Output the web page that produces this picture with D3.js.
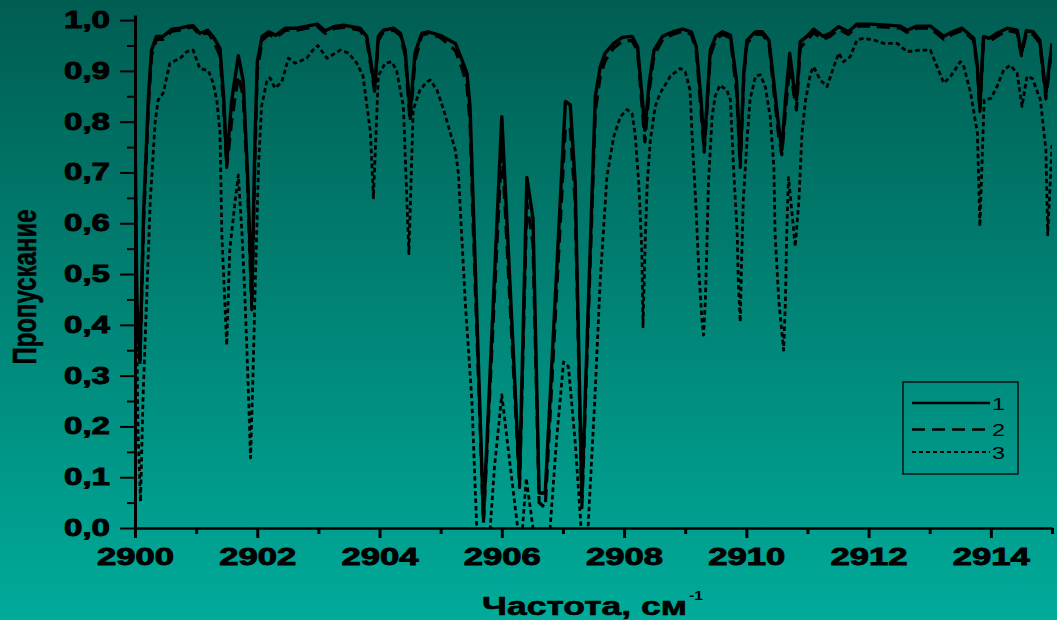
<!DOCTYPE html>
<html><head><meta charset="utf-8">
<script src="https://cdn.jsdelivr.net/npm/d3@7"></script>
<style>html,body{margin:0;padding:0;background:#008a7b;} svg{display:block}</style>
</head><body><svg id="c" width="1057" height="620"></svg>
<script>
// ---- data (frequency cm^-1, transmission) ----
const xTicks = [2900, 2902, 2904, 2906, 2908, 2910, 2912, 2914];
const xMinorTicks = [2901, 2903, 2905, 2907, 2909, 2911, 2913, 2915];
const yTicks = [0, 0.1, 0.2, 0.3, 0.4, 0.5, 0.6, 0.7, 0.8, 0.9, 1.0];
const yMinorTicks = [0.05, 0.15, 0.25, 0.35, 0.45, 0.55, 0.65, 0.75, 0.85, 0.95];
const seriesNames = ["1", "2", "3"];
const xTitle = "Частота, см";
const yTitle = "Пропускание";

const series1 = [[2900.00,.80],[2900.03,.45],[2900.08,.33],[2900.14,.62],[2900.22,.85],[2900.27,.94],[2900.35,.968],[2900.46,.968],[2900.60,.982],[2900.74,.984],[2900.87,.988],[2900.95,.989],[2901.06,.974],[2901.19,.98],[2901.28,.967],[2901.39,.944],[2901.45,.85],[2901.50,.72],[2901.58,.84],[2901.69,.93],[2901.77,.88],[2901.84,.70],[2901.91,.45],[2901.96,.75],[2902.00,.918],[2902.08,.968],[2902.19,.977],[2902.30,.97],[2902.46,.984],[2902.65,.984],[2902.81,.988],[2902.98,.992],[2903.11,.979],[2903.25,.987],[2903.41,.99],[2903.68,.984],[2903.79,.968],[2903.87,.908],[2903.92,.866],[2903.98,.968],[2904.06,.98],[2904.23,.984],[2904.34,.974],[2904.42,.94],[2904.50,.817],[2904.58,.935],[2904.69,.974],[2904.80,.977],[2904.99,.97],[2905.15,.96],[2905.24,.954],[2905.35,.921],[2905.43,.895],[2905.48,.83],[2905.53,.646],[2905.70,.02],[2906.00,.81],[2906.29,.095],[2906.41,.69],[2906.51,.61],[2906.61,.069],[2906.71,.069],[2907.04,.84],[2907.12,.833],[2907.20,.68],[2907.31,.062],[2907.53,.85],[2907.61,.908],[2907.69,.935],[2907.83,.954],[2907.97,.966],[2908.13,.968],[2908.22,.948],[2908.30,.843],[2908.34,.783],[2908.41,.876],[2908.49,.941],[2908.63,.968],[2908.80,.977],[2908.96,.982],[2909.10,.977],[2909.18,.948],[2909.26,.843],[2909.31,.75],[2909.36,.843],[2909.41,.941],[2909.50,.968],[2909.61,.977],[2909.74,.97],[2909.84,.88],[2909.90,.724],[2909.96,.90],[2910.01,.96],[2910.15,.977],[2910.26,.977],[2910.37,.96],[2910.45,.876],[2910.53,.79],[2910.58,.744],[2910.64,.843],[2910.71,.935],[2910.77,.876],[2910.82,.843],[2910.88,.957],[2910.99,.968],[2911.10,.982],[2911.26,.968],[2911.37,.974],[2911.51,.987],[2911.67,.977],[2911.81,.992],[2912.03,.992],[2912.30,.99],[2912.52,.988],[2912.63,.98],[2912.79,.988],[2913.01,.988],[2913.23,.968],[2913.37,.977],[2913.53,.984],[2913.72,.964],[2913.78,.908],[2913.82,.829],[2913.88,.968],[2913.97,.964],[2914.10,.974],[2914.27,.984],[2914.43,.98],[2914.50,.935],[2914.58,.979],[2914.69,.977],[2914.80,.96],[2914.90,.856],[2915.00,.954]];

const series2 = [[2900.00,.75],[2900.03,.42],[2900.08,.32],[2900.14,.60],[2900.22,.83],[2900.27,.93],[2900.35,.962],[2900.46,.962],[2900.60,.978],[2900.74,.98],[2900.87,.985],[2900.95,.986],[2901.06,.97],[2901.19,.976],[2901.28,.96],[2901.39,.93],[2901.45,.83],[2901.50,.71],[2901.58,.80],[2901.69,.89],[2901.77,.85],[2901.84,.68],[2901.91,.43],[2901.96,.72],[2902.00,.90],[2902.08,.96],[2902.19,.972],[2902.30,.965],[2902.46,.98],[2902.65,.98],[2902.81,.984],[2902.98,.988],[2903.11,.974],[2903.25,.983],[2903.41,.986],[2903.68,.98],[2903.79,.96],[2903.87,.90],[2903.92,.86],[2903.98,.96],[2904.06,.976],[2904.23,.98],[2904.34,.97],[2904.42,.93],[2904.50,.80],[2904.58,.92],[2904.69,.97],[2904.80,.974],[2904.99,.966],[2905.15,.95],[2905.24,.94],[2905.35,.905],[2905.43,.87],[2905.48,.80],[2905.53,.60],[2905.70,.01],[2906.00,.755],[2906.29,.08],[2906.41,.64],[2906.51,.56],[2906.61,.05],[2906.71,.04],[2907.04,.79],[2907.12,.785],[2907.20,.64],[2907.31,.04],[2907.53,.82],[2907.61,.89],[2907.69,.92],[2907.83,.945],[2907.97,.958],[2908.13,.96],[2908.22,.94],[2908.30,.82],[2908.34,.76],[2908.41,.86],[2908.49,.93],[2908.63,.962],[2908.80,.972],[2908.96,.978],[2909.10,.972],[2909.18,.94],[2909.26,.82],[2909.31,.74],[2909.36,.83],[2909.41,.93],[2909.50,.962],[2909.61,.972],[2909.74,.965],[2909.84,.86],[2909.90,.71],[2909.96,.89],[2910.01,.955],[2910.15,.972],[2910.26,.972],[2910.37,.955],[2910.45,.86],[2910.53,.77],[2910.58,.735],[2910.64,.82],[2910.71,.91],[2910.77,.86],[2910.82,.823],[2910.88,.945],[2910.99,.96],[2911.10,.975],[2911.26,.962],[2911.37,.968],[2911.51,.982],[2911.67,.972],[2911.81,.988],[2912.03,.988],[2912.30,.986],[2912.52,.984],[2912.63,.976],[2912.79,.984],[2913.01,.984],[2913.23,.962],[2913.37,.972],[2913.53,.98],[2913.72,.96],[2913.78,.90],[2913.82,.82],[2913.88,.96],[2913.97,.958],[2914.10,.968],[2914.27,.98],[2914.43,.975],[2914.50,.93],[2914.58,.974],[2914.69,.972],[2914.80,.955],[2914.90,.845],[2915.00,.95]];

const series3 = [[2900.00,.80],[2900.02,.45],[2900.05,.19],[2900.09,.052],[2900.13,.25],[2900.19,.45],[2900.25,.646],[2900.33,.80],[2900.38,.843],[2900.46,.856],[2900.57,.915],[2900.74,.925],[2900.85,.938],[2900.95,.941],[2901.06,.905],[2901.20,.90],[2901.28,.876],[2901.34,.84],[2901.39,.78],[2901.42,.58],[2901.50,.36],[2901.55,.547],[2901.64,.646],[2901.69,.695],[2901.75,.58],[2901.80,.449],[2901.85,.285],[2901.89,.138],[2901.93,.30],[2901.96,.449],[2902.02,.711],[2902.07,.83],[2902.16,.882],[2902.21,.886],[2902.29,.866],[2902.40,.878],[2902.51,.925],[2902.62,.915],[2902.81,.925],[2902.91,.941],[2902.99,.95],[2903.14,.925],[2903.36,.941],[2903.49,.935],[2903.63,.915],[2903.73,.89],[2903.85,.78],[2903.90,.65],[2903.98,.89],[2904.09,.915],[2904.20,.918],[2904.28,.90],[2904.39,.83],[2904.48,.54],[2904.55,.823],[2904.66,.862],[2904.77,.878],[2904.83,.882],[2904.94,.862],[2905.05,.823],[2905.16,.777],[2905.24,.744],[2905.29,.698],[2905.40,.449],[2905.51,.252],[2905.59,0.0],[2905.70,-0.12],[2905.81,0.0],[2905.88,.12],[2906.00,.262],[2906.13,.13],[2906.26,0.0],[2906.32,-0.03],[2906.37,.05],[2906.40,.098],[2906.51,0.0],[2906.65,-0.1],[2906.79,0.0],[2906.90,.18],[2907.01,.327],[2907.09,.318],[2907.20,.17],[2907.28,.03],[2907.34,-0.08],[2907.41,0.0],[2907.52,.25],[2907.61,.488],[2907.72,.692],[2907.83,.77],[2907.94,.81],[2908.05,.824],[2908.13,.816],[2908.18,.777],[2908.24,.679],[2908.29,.547],[2908.31,.396],[2908.35,.58],[2908.38,.68],[2908.43,.764],[2908.51,.83],[2908.59,.856],[2908.76,.89],[2908.92,.905],[2909.00,.898],[2909.08,.862],[2909.11,.777],[2909.17,.646],[2909.22,.514],[2909.27,.416],[2909.30,.38],[2909.33,.449],[2909.36,.58],[2909.38,.679],[2909.44,.81],[2909.49,.85],[2909.57,.872],[2909.68,.862],[2909.74,.843],[2909.79,.711],[2909.85,.58],[2909.87,.48],[2909.90,.406],[2909.92,.514],[2909.95,.646],[2910.01,.76],[2910.06,.843],[2910.15,.89],[2910.23,.892],[2910.31,.869],[2910.39,.81],[2910.45,.711],[2910.47,.58],[2910.53,.449],[2910.61,.35],[2910.64,.449],[2910.66,.58],[2910.69,.69],[2910.80,.554],[2910.86,.646],[2910.91,.777],[2910.97,.843],[2911.05,.895],[2911.10,.908],[2911.21,.882],[2911.32,.869],[2911.43,.908],[2911.51,.935],[2911.59,.918],[2911.70,.928],[2911.81,.961],[2911.92,.964],[2912.08,.961],[2912.25,.954],[2912.47,.954],[2912.63,.938],[2912.85,.941],[2913.01,.941],[2913.12,.908],[2913.23,.876],[2913.34,.889],[2913.50,.918],[2913.56,.908],[2913.67,.856],[2913.78,.777],[2913.82,.594],[2913.89,.843],[2914.00,.846],[2914.10,.869],[2914.21,.902],[2914.32,.911],[2914.43,.895],[2914.51,.83],[2914.59,.889],[2914.68,.885],[2914.81,.843],[2914.90,.744],[2914.93,.577],[2915.00,.754]];

// ---- drawing ----
const svg = d3.select("#c");
const W = 1057, H = 620;
const FONT = "'Liberation Sans', Arial, sans-serif";

const defs = svg.append("defs");
const grad = defs.append("linearGradient").attr("id", "bg").attr("x1", 0).attr("y1", 0).attr("x2", 0).attr("y2", 1);
grad.append("stop").attr("offset", "0%").attr("stop-color", "#005d52");
grad.append("stop").attr("offset", "100%").attr("stop-color", "#00ab9a");
svg.append("rect").attr("width", W).attr("height", H).attr("fill", "url(#bg)");

const x = d3.scaleLinear().domain([2900, 2915]).range([135, 1052]);
const y = d3.scaleLinear().domain([0, 1.01]).range([528, 15]);

defs.append("clipPath").attr("id", "plotClip").append("rect")
  .attr("x", 135).attr("y", 15).attr("width", 1052 - 135).attr("height", 528 - 15);

const line = d3.line().x(d => x(d[0])).y(d => y(d[1]));
const plot = svg.append("g").attr("clip-path", "url(#plotClip)");
const styles = [
  {data: series3, w: 2.8, dash: "4.5,3"},
  {data: series2, w: 3.2, dash: "13,7"},
  {data: series1, w: 3.4, dash: null}
];
styles.forEach(s => {
  plot.append("path").datum(s.data).attr("d", line)
    .attr("fill", "none").attr("stroke", "#000").attr("stroke-width", s.w)
    .attr("stroke-linejoin", "round")
    .attr("stroke-dasharray", s.dash);
});

// axes
const fmt = d => d3.format(".1f")(d).replace(".", ",");
const yAxis = svg.append("g").attr("transform", "translate(135,0)")
  .call(d3.axisLeft(y).tickValues(yTicks).tickSize(15).tickSizeOuter(0).tickPadding(10).tickFormat(fmt));
const yMinor = svg.append("g").attr("transform", "translate(135,0)")
  .call(d3.axisLeft(y).tickValues(yMinorTicks).tickSize(8).tickSizeOuter(0).tickFormat(""));
yMinor.select(".domain").remove();
const xAxis = svg.append("g").attr("transform", "translate(0,528)")
  .call(d3.axisBottom(x).tickValues(xTicks).tickSize(10).tickSizeOuter(0).tickPadding(10).tickFormat(d3.format("d")));
const xMinor = svg.append("g").attr("transform", "translate(0,528)")
  .call(d3.axisBottom(x).tickValues(xMinorTicks).tickSize(6).tickSizeOuter(0).tickFormat(""));
xMinor.select(".domain").remove();

yAxis.select(".domain").attr("stroke", "#000").attr("stroke-width", 3);
xAxis.select(".domain").attr("stroke", "#000").attr("stroke-width", 2.5);
yAxis.selectAll(".tick line").attr("stroke", "#000").attr("stroke-width", 2);
yMinor.selectAll(".tick line").attr("stroke", "#000").attr("stroke-width", 2);
xAxis.selectAll(".tick line").attr("stroke", "#000").attr("stroke-width", 3);
xMinor.selectAll(".tick line").attr("stroke", "#000").attr("stroke-width", 3);

yAxis.selectAll(".tick text")
  .attr("font-family", FONT).attr("font-weight", "bold").attr("font-size", 23.5)
  .attr("fill", "#000").attr("stroke", "#000").attr("stroke-width", 0.9)
  .attr("textLength", 46).attr("lengthAdjust", "spacingAndGlyphs");
xAxis.selectAll(".tick text")
  .attr("font-family", FONT).attr("font-weight", "bold").attr("font-size", 23.5)
  .attr("fill", "#000").attr("stroke", "#000").attr("stroke-width", 0.9)
  .attr("textLength", 77).attr("lengthAdjust", "spacingAndGlyphs");

// titles
svg.append("text").attr("x", 482).attr("y", 615)
  .attr("font-family", FONT).attr("font-weight", "bold").attr("font-size", 25)
  .attr("fill", "#000").attr("stroke", "#000").attr("stroke-width", 0.6)
  .attr("textLength", 205).attr("lengthAdjust", "spacingAndGlyphs").text(xTitle);
svg.append("text").attr("x", 689).attr("y", 600)
  .attr("font-family", FONT).attr("font-weight", "bold").attr("font-size", 13)
  .attr("fill", "#000").attr("textLength", 14).attr("lengthAdjust", "spacingAndGlyphs").text("-1");

svg.append("text").attr("transform", "translate(36,287) scale(1.35,1) rotate(-90)")
  .attr("text-anchor", "middle")
  .attr("font-family", FONT).attr("font-weight", "bold").attr("font-size", 24)
  .attr("fill", "#000").attr("stroke", "#000").attr("stroke-width", 0.4)
  .text(yTitle);

// legend
const lg = svg.append("g");
lg.append("rect").attr("x", 903).attr("y", 382).attr("width", 115).attr("height", 92)
  .attr("fill", "none").attr("stroke", "#000").attr("stroke-width", 1.3);
const legRows = [
  {name: seriesNames[0], y: 403, dash: null, w: 2.6},
  {name: seriesNames[1], y: 429.5, dash: "13,7", w: 2.6},
  {name: seriesNames[2], y: 452, dash: "4,3", w: 1.8}
];
legRows.forEach(r => {
  lg.append("line").attr("x1", 912).attr("x2", 990).attr("y1", r.y).attr("y2", r.y)
    .attr("stroke", "#000").attr("stroke-width", r.w).attr("stroke-dasharray", r.dash);
  lg.append("text").attr("x", 992).attr("y", r.y + 6.5)
    .attr("font-family", FONT).attr("font-size", 17).attr("fill", "#000")
    .attr("textLength", 13).attr("lengthAdjust", "spacingAndGlyphs").text(r.name);
});
</script>
</body></html>
